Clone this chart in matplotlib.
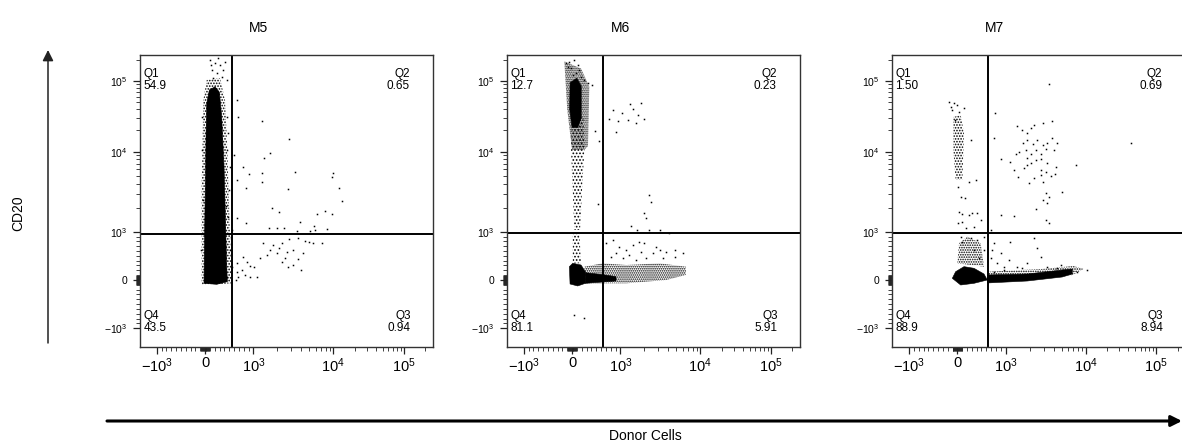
import numpy as np
import matplotlib
matplotlib.use('Agg')
import matplotlib.pyplot as plt
from matplotlib.ticker import FixedLocator, FixedFormatter

plt.rcParams['font.family'] = ['Liberation Sans', 'DejaVu Sans']
plt.rcParams['mathtext.fontset'] = 'custom'
plt.rcParams['mathtext.rm'] = 'Liberation Sans'
plt.rcParams['hatch.linewidth'] = 0.8
plt.rcParams['hatch.color'] = 'black'

# ---------------- data ----------------
titles = ['M5', 'M6', 'M7']
x_label = 'Donor Cells'
y_label = 'CD20'

# quadrant frequencies: Q1, Q2, Q3, Q4
m5_pct = ['54.9', '0.65', '0.94', '43.5']
m6_pct = ['12.7', '0.23', '5.91', '81.1']
m7_pct = ['1.50', '0.69', '8.94', '88.9']

# quadrant gate (x, y)
m5_gate = (560, 960)
m6_gate = (650, 970)
m7_gate = (635, 970)

# dense populations (solid outlines, data units)
m5_core = [[(-21, -69), (-14, 621), (7, 4030), (21, 18200), (35, 48300), (90, 74900),
            (207, 83000), (297, 69600), (345, 31000), (393, 6500), (421, 1540),
            (449, 276), (462, -35), (242, -90)]]
m6_core = [[(-55, 276), (14, 345), (186, 310), (276, 172), (276, -69), (117, -124), (-41, -83)],
           [(-40, 95000), (100, 110000), (190, 85000), (190, 30000), (120, 22000), (0, 22000), (-50, 40000)],
           [(276, 152), (635, 110), (911, 70), (911, -20), (276, -69)]]
m7_core = [[(-104, 35), (-35, 172), (138, 276), (345, 242), (552, 124), (621, 0), (345, -69), (69, -104)],
           [(621, 104), (1870, 124), (5110, 207), (6810, 228), (6810, 124), (5110, 62),
            (1870, -21), (621, -62)]]

# medium-density populations (outline, stipple density)
m5_mid = [([(-69, -104), (-69, 4030), (-35, 54000), (35, 104000), (310, 110000), (414, 54000),
            (462, 10560), (504, 1540), (552, -69)], '......')]
m6_mid = [([(-160, 190000), (186, 150000), (358, 83000), (330, 12000), (250, 10560), (0, 10560),
            (-100, 40000)], '.........'),
          ([(0, 31000), (234, 31000), (255, 10560), (207, 3320), (166, 1050), (48, 1050),
            (14, 3320), (-21, 10560)], '.....'),
          ([(14, 967), (152, 967), (186, 345), (14, 345)], '.....'),
          ([(255, 276), (635, 345), (1190, 310), (3090, 345), (6600, 276), (6600, 104),
            (3760, 0), (1190, -69), (566, -69), (276, -69)], '........')]
m7_mid = [([(-83, 31000), (69, 33100), (138, 18200), (104, 4430), (-35, 4430), (-83, 10560)], '......'),
          ([(0, 345), (35, 760), (207, 897), (483, 760), (552, 276)], '.......'),
          ([(621, 170), (2960, 230), (7000, 290), (9500, 230), (6800, 100), (621, 60)], '.......')]

# scattered single events
m5_events = [
    (656, 54000), (677, 31000), (1300, 27600), (2770, 15200), (1360, 8400), (1620, 9520),
    (590, 9200), (780, 6500), (900, 5200), (1270, 5370), (655, 4430), (3350, 5560),
    (1270, 4150), (850, 3550), (2740, 3390), (9830, 5370), (9500, 4870), (12100, 3550),
    (13100, 2420), (1690, 2000), (2070, 1750), (655, 1470), (840, 1270), (7860, 1820),
    (6200, 1660), (9500, 1660), (3830, 1310), (1560, 1120), (1960, 1120), (2440, 1120),
    (5730, 1190), (5900, 1050), (8420, 1070), (3480, 1030), (5110, 1020),
    (1330, 773), (1750, 725), (2260, 760), (2820, 850), (3660, 863), (4430, 814),
    (4900, 793), (5630, 760), (7260, 760), (1620, 620), (2100, 670), (2610, 587),
    (3170, 620), (4210, 566), (1470, 518), (2260, 380), (2740, 276), (3170, 310),
    (3660, 428), (3900, 207), (795, 483), (863, 380), (932, 290), (1030, 276),
    (760, 207), (828, 104), (932, 69), (1100, 69), (656, 345), (656, 172), (690, 69),
    (635, 0), (1210, 449), (1960, 552), (2490, 449),
    (104, 199600), (207, 178000), (310, 169500), (414, 188000), (138, 144000),
    (242, 130000), (345, 115000), (449, 104000), (172, 110000), (380, 144000),
    (276, 210000), (117, 169500),
    (462, 10560), (504, 3320), (483, 1540), (518, 620), (449, 31000), (483, 18200),
    (518, 6500), (435, 2070), (531, 900), (552, 276), (462, 69), (552, 1050),
    (-69, 10560), (-48, 2490), (-83, 620), (-62, 31000)]
m6_events = [
    (773, 29500), (856, 39000), (1050, 35000), (911, 19200), (946, 26800), (1240, 28100),
    (1320, 47300), (1570, 25100), (1650, 33100), (1810, 48300), (2000, 29500), (1450, 40000),
    (2310, 2880), (2420, 2370), (2100, 1470), (1970, 1700), (1360, 1190), (1600, 1050),
    (2260, 1040), (3090, 1050), (4030, 980), (483, 19800), (552, 14100), (531, 2200),
    (414, 88200), (48, -725), (255, -780),
    (-124, 178000), (-55, 188000), (-21, 152000), (48, 200000), (117, 169500), (-90, 160000),
    (83, 128000), (152, 144000), (14, 122000), (186, 115000), (255, 104000), (324, 93000),
    (704, 760), (842, 828), (980, 690), (1190, 621), (1440, 725), (1730, 793), (2000, 760),
    (911, 552), (1300, 518), (1810, 587), (2530, 552), (3090, 621), (3760, 587), (4780, 621),
    (6150, 552), (4780, 483), (2100, 449), (1570, 414), (1070, 449), (808, 483), (3390, 449),
    (2810, 690)]
m7_events = [
    (-172, 50600), (-124, 42600), (-69, 48300), (138, 41800), (35, 36000), (-48, 28100),
    (276, 14640), (242, 4210), (380, 4430), (21, 3660), (69, 2740), (159, 2660), (35, 1780),
    (104, 1660), (242, 1620), (310, 1700), (400, 1700), (21, 1270), (104, 1330), (172, 1100),
    (497, 1400), (345, 1160), (-104, 39000), (0, 45900),
    (3480, 90000), (780, 35000), (760, 15500), (897, 8100), (1130, 7500), (1270, 5900),
    (1430, 4870), (1400, 23100), (1620, 20300), (1830, 18600), (2100, 21400), (2260, 23900),
    (2930, 25800), (3830, 27200), (1660, 13100), (1870, 14640), (2220, 12800), (2490, 14640),
    (2960, 12430), (3320, 13100), (3760, 15500), (4430, 13100), (1470, 10000), (1780, 10560),
    (2070, 9500), (2380, 10560), (2740, 9500), (3170, 10800), (4030, 10560), (1330, 9500),
    (1830, 6810), (2100, 7140), (2380, 7860), (2740, 8100), (3260, 7140), (4210, 6500),
    (7500, 6810), (1700, 6200), (1960, 4030), (2260, 4650), (2740, 5110), (3170, 5630),
    (3660, 4980), (4150, 5250), (2960, 4210), (5110, 3170), (3170, 3030), (3480, 2740),
    (2960, 2490), (3320, 2260), (2380, 1920), (897, 1640), (1270, 1580), (3170, 1400),
    (3480, 1270), (43600, 13100), (2740, 5900), (1870, 8400), (690, 1050),
    (760, 760), (725, 621), (897, 552), (1150, 793), (1100, 414), (1400, 276), (1870, 345),
    (2740, 483), (3320, 276), (4430, 242), (4870, 310), (6500, 207), (7860, 172),
    (10560, 207), (2260, 863), (2490, 656), (1620, 242), (828, 345), (967, 276), (690, 449),
    (552, 621), (414, 828), (345, 621), (449, 449), (760, 172), (967, 207), (552, 897),
    (276, 863), (104, 793), (69, 897)]

# axis ticks
major_ticks = [-1e3, 0, 1e3, 1e4, 1e5]
major_labels = [r'$\mathregular{-10^3}$', '0', r'$\mathregular{10^3}$',
                r'$\mathregular{10^4}$', r'$\mathregular{10^5}$']
minor_ticks = ([s * v for s in (-1, 1) for v in range(10, 100, 10)] +
               [s * v for s in (-1, 1) for v in range(100, 1000, 100)] +
               [m * 1e3 for m in range(2, 10)] + [m * 1e4 for m in range(2, 10)] + [2e5])
x_lim = (-1620, 254700)
y_lim = (-1700, 233600)

# ---------------- biexponential-like display scale ----------------
LIN, D1, D2 = 48.3, 80.0, 70.7


def fwd(v):
    v = np.asarray(v, dtype=float)
    a = np.abs(v)
    s = np.sign(v)
    la = np.log10(np.maximum(a, 1e-9))
    return np.where(a <= 1e3, v * LIN / 1e3,
                    np.where(a <= 1e4, s * (LIN + D1 * (la - 3)),
                             s * (LIN + D1 + D2 * (la - 4))))


def inv(u):
    u = np.asarray(u, dtype=float)
    a = np.abs(u)
    s = np.sign(u)
    with np.errstate(over='ignore'):
        return np.where(a <= LIN, u * 1e3 / LIN,
                        np.where(a <= LIN + D1, s * 10 ** (3 + (a - LIN) / D1),
                                 s * 10 ** (4 + (a - LIN - D1) / D2)))


W, H = 1182, 444
fig = plt.figure(figsize=(W / 100, H / 100), dpi=100)

# overlay for the axis arrows / labels (pixel coordinates)
ov = fig.add_axes([0, 0, 1, 1])
ov.set_xlim(0, W)
ov.set_ylim(H, 0)
ov.axis('off')
ov.annotate('', xy=(48, 50), xytext=(48, 343),
            arrowprops=dict(arrowstyle='-|>', lw=1.1, color='#222', mutation_scale=16, shrinkA=0, shrinkB=0))
ov.annotate('', xy=(1182, 421), xytext=(107, 421),
            arrowprops=dict(arrowstyle='-|>', lw=2.2, color='black', mutation_scale=16, shrinkA=0, shrinkB=0))
ov.text(18, 213, y_label, rotation=90, ha='center', va='center', fontsize=10)
ov.text(645, 436, x_label, ha='center', va='center', fontsize=10)

panel_left = [140, 507, 892.3]
title_x = [258, 621, 994]
panels = [
    (m5_core, m5_mid, m5_events, m5_gate, m5_pct),
    (m6_core, m6_mid, m6_events, m6_gate, m6_pct),
    (m7_core, m7_mid, m7_events, m7_gate, m7_pct),
]

for i, (core, mid, events, gate, pct) in enumerate(panels):
    ax = fig.add_axes([panel_left[i] / W, (H - 346.7) / H, 292.7 / W, 291.7 / H])
    ax.set_xscale('function', functions=(fwd, inv))
    ax.set_yscale('function', functions=(fwd, inv))
    ax.set_xlim(*x_lim)
    ax.set_ylim(*y_lim)

    for poly in core:
        px, py = zip(*poly)
        ax.fill(px, py, color='black', lw=0.4)
    for poly, h in mid:
        px, py = zip(*poly)
        ax.fill(px, py, facecolor='none', edgecolor='black', hatch=h, lw=0)
    ex, ey = zip(*events)
    ax.plot(ex, ey, 's', ms=1.1, mew=0, color='black')

    ax.axvline(gate[0], color='black', lw=1.4)
    ax.axhline(gate[1], color='black', lw=1.4)

    kw = dict(transform=ax.transAxes, fontsize=8.5, linespacing=0.95)
    ax.text(0.011, 0.955, 'Q1\n' + pct[0], ha='left', va='top', **kw)
    ax.text(0.922, 0.955, 'Q2\n' + pct[1], ha='right', va='top', multialignment='right', **kw)
    ax.text(0.925, 0.045, 'Q3\n' + pct[2], ha='right', va='bottom', multialignment='right', **kw)
    ax.text(0.011, 0.045, 'Q4\n' + pct[3], ha='left', va='bottom', **kw)

    for axis in (ax.xaxis, ax.yaxis):
        axis.set_major_locator(FixedLocator(major_ticks))
        axis.set_major_formatter(FixedFormatter(major_labels))
        axis.set_minor_locator(FixedLocator(minor_ticks))
    ax.tick_params(which='major', direction='out', length=5, width=0.9, color='#222')
    ax.tick_params(which='minor', direction='out', length=2.8, width=0.6, color='#222')
    ax.tick_params(axis='x', labelsize=10.5, pad=2)
    ax.tick_params(axis='y', labelsize=7.5, pad=4)
    for sp in ax.spines.values():
        sp.set_linewidth(1.0)
        sp.set_color('#333')

    fig.text(title_x[i] / W, 1 - 28 / H, titles[i], ha='center', va='center', fontsize=10)

fig.savefig('out.png', dpi=100)
